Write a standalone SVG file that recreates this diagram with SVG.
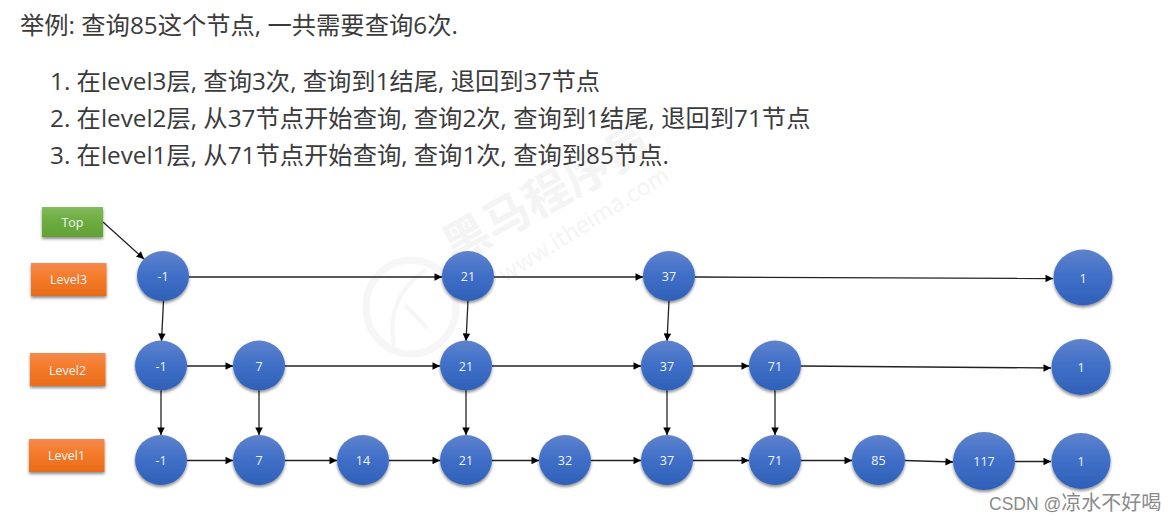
<svg xmlns="http://www.w3.org/2000/svg" width="1174" height="523" viewBox="0 0 1174 523">
<style>
.t{font-family:"Open Sans","Noto Sans CJK SC",sans-serif;font-size:24.3px;fill:#3b3b3b}
.n{font-family:"Open Sans","Noto Sans",sans-serif;font-size:12.500px;fill:#f2f5fb;text-anchor:middle}
.c{fill:url(#blue);filter:url(#sh)}
.o{fill:url(#org);filter:url(#sh)}
.g{fill:url(#grn);filter:url(#sh)}
.e{fill:none;stroke:#222;stroke-width:1.3;marker-end:url(#a)}
.wm{font-family:"Noto Sans CJK SC",sans-serif;fill:#f4f4f4}
</style>
<defs>
<linearGradient id="blue" x1="0" y1="0" x2="0" y2="1"><stop offset="0" stop-color="#5f83cd"/><stop offset=".45" stop-color="#4170c8"/><stop offset="1" stop-color="#2f60b8"/></linearGradient>
<linearGradient id="org" x1="0" y1="0" x2="0" y2="1"><stop offset="0" stop-color="#f48a4c"/><stop offset=".45" stop-color="#f57a28"/><stop offset="1" stop-color="#e76c1a"/></linearGradient>
<linearGradient id="grn" x1="0" y1="0" x2="0" y2="1"><stop offset="0" stop-color="#83bb5e"/><stop offset=".5" stop-color="#6cab3e"/><stop offset="1" stop-color="#62a235"/></linearGradient>
<filter id="sh" x="-20%" y="-20%" width="140%" height="150%"><feDropShadow dx="0" dy="2" stdDeviation="1.6" flood-color="#000" flood-opacity=".45"/></filter>
<marker id="a" viewBox="0 0 8 8" refX="8" refY="4" markerWidth="8" markerHeight="7.500" markerUnits="userSpaceOnUse" orient="auto"><path d="M0 0L8 4L0 8Z" fill="#000"/></marker>
</defs>
<rect width="1174" height="523" fill="#fff"/>
<g id="watermark">
<ellipse cx="411" cy="307" rx="45" ry="47" fill="none" stroke="#f6f6f6" stroke-width="7"/>
<path d="M394 346C388 315 398 288 426 270M405 305L427 328" fill="none" stroke="#f6f6f6" stroke-width="4"/>
<text class="wm" transform="translate(454 264) rotate(-29)" font-size="46" font-weight="700">黑马程序员</text>
<text class="wm" transform="translate(505 283) rotate(-32)" font-size="23" font-family="Open Sans">www.itheima.com</text>
</g>
<g id="intro">
<text class="t" x="20" y="34">举例: 查询85这个节点, 一共需要查询6次.</text>
<text class="t" x="50" y="90">1. 在level3层, 查询3次, 查询到1结尾, 退回到37节点</text>
<text class="t" x="50" y="127">2. 在level2层, 从37节点开始查询, 查询2次, 查询到1结尾, 退回到71节点</text>
<text class="t" x="50" y="164">3. 在level1层, 从71节点开始查询, 查询1次, 查询到85节点.</text>
</g>
<g id="connectors">
<path class="e" d="M103 222L144 259"/>
<path class="e" d="M189 277H442"/>
<path class="e" d="M494 277H643"/>
<path class="e" d="M695 277L1053 278.500"/>
<path class="e" d="M163.500 301L161.500 341"/>
<path class="e" d="M468 301L466 341"/>
<path class="e" d="M669 301L667 341"/>
<path class="e" d="M187 366H233"/>
<path class="e" d="M285 366H440"/>
<path class="e" d="M492 366H641"/>
<path class="e" d="M693 366H749"/>
<path class="e" d="M801 366L1051 368"/>
<path class="e" d="M161 390V435"/>
<path class="e" d="M259 390V435"/>
<path class="e" d="M466 390V435"/>
<path class="e" d="M667 390V435"/>
<path class="e" d="M775 390V435"/>
<path class="e" d="M187 460.500H233"/>
<path class="e" d="M285 460.500H337"/>
<path class="e" d="M389 460.500H440"/>
<path class="e" d="M492 460.500H539"/>
<path class="e" d="M591 460.500H641"/>
<path class="e" d="M693 460.500H749"/>
<path class="e" d="M801 460.500H852"/>
<path class="e" d="M905 460.500L953 462"/>
<path class="e" d="M1015 461.500H1051"/>
</g>
<g id="top"><rect class="g" x="42" y="207" width="61" height="30"/><text class="n" x="72.500" y="227">Top</text></g>
<g id="label-level3"><rect class="o" x="31" y="263" width="75.500" height="33"/><text class="n" x="68.500" y="284">Level3</text></g>
<g id="label-level2"><rect class="o" x="30" y="353" width="75.500" height="33"/><text class="n" x="67.500" y="374.500">Level2</text></g>
<g id="label-level1"><rect class="o" x="29" y="439" width="75.500" height="33"/><text class="n" x="66.500" y="460">Level1</text></g>
<g id="l3-m1"><ellipse class="c" cx="163" cy="276" rx="26" ry="25"/><text class="n" x="163" y="281">-1</text></g>
<g id="l3-21"><ellipse class="c" cx="468" cy="276" rx="26" ry="25"/><text class="n" x="468" y="281">21</text></g>
<g id="l3-37"><ellipse class="c" cx="669" cy="276" rx="26" ry="25"/><text class="n" x="669" y="281">37</text></g>
<g id="l3-1"><ellipse class="c" cx="1083" cy="277.500" rx="29.500" ry="28"/><text class="n" x="1083" y="283">1</text></g>
<g id="l2-m1"><ellipse class="c" cx="161" cy="365.500" rx="26" ry="25"/><text class="n" x="161" y="371">-1</text></g>
<g id="l2-7"><ellipse class="c" cx="259" cy="365.500" rx="26" ry="25"/><text class="n" x="259" y="371">7</text></g>
<g id="l2-21"><ellipse class="c" cx="466" cy="365.500" rx="26" ry="25"/><text class="n" x="466" y="371">21</text></g>
<g id="l2-37"><ellipse class="c" cx="667" cy="365.500" rx="26" ry="25"/><text class="n" x="667" y="371">37</text></g>
<g id="l2-71"><ellipse class="c" cx="775" cy="365.500" rx="26" ry="25"/><text class="n" x="775" y="371">71</text></g>
<g id="l2-1"><ellipse class="c" cx="1081" cy="367" rx="29.500" ry="28"/><text class="n" x="1081" y="372">1</text></g>
<g id="l1-m1"><ellipse class="c" cx="161" cy="460" rx="26" ry="25"/><text class="n" x="161" y="465">-1</text></g>
<g id="l1-7"><ellipse class="c" cx="259" cy="460" rx="26" ry="25"/><text class="n" x="259" y="465">7</text></g>
<g id="l1-14"><ellipse class="c" cx="363" cy="460" rx="26" ry="25"/><text class="n" x="363" y="465">14</text></g>
<g id="l1-21"><ellipse class="c" cx="466" cy="460" rx="26" ry="25"/><text class="n" x="466" y="465">21</text></g>
<g id="l1-32"><ellipse class="c" cx="565" cy="460" rx="26" ry="25"/><text class="n" x="565" y="465">32</text></g>
<g id="l1-37"><ellipse class="c" cx="667" cy="460" rx="26" ry="25"/><text class="n" x="667" y="465">37</text></g>
<g id="l1-71"><ellipse class="c" cx="775" cy="460" rx="26" ry="25"/><text class="n" x="775" y="465">71</text></g>
<g id="l1-85"><ellipse class="c" cx="878.500" cy="460" rx="26.500" ry="25"/><text class="n" x="878.500" y="465">85</text></g>
<g id="l1-117"><ellipse class="c" cx="984" cy="461" rx="31" ry="29"/><text class="n" x="984" y="466">117</text></g>
<g id="l1-1"><ellipse class="c" cx="1081" cy="461" rx="29.500" ry="28"/><text class="n" x="1081" y="466">1</text></g>
<text id="csdn" x="989" y="510" font-family="Liberation Sans,Noto Sans CJK SC,sans-serif" font-size="17.500" fill="#8a8a8a">CSDN @<tspan font-size="20">凉水不好喝</tspan></text>
</svg>
